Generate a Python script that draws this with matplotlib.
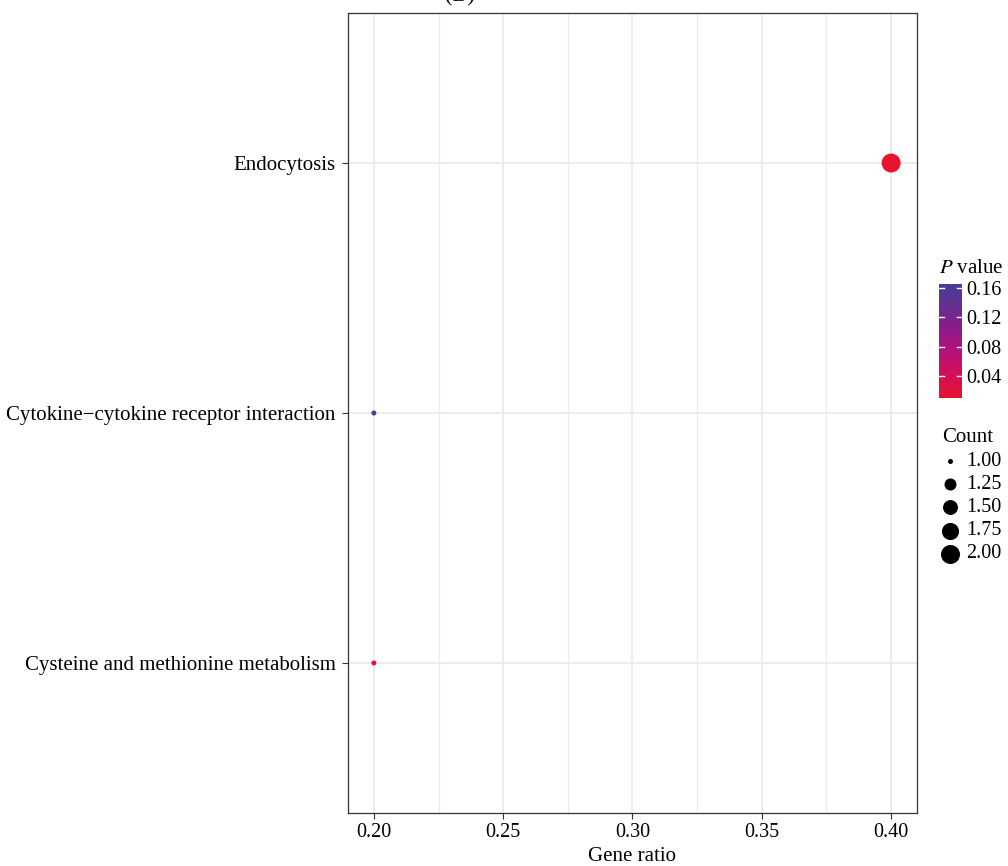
import matplotlib
matplotlib.use("Agg")
import matplotlib.pyplot as plt
import numpy as np
from matplotlib.colors import LinearSegmentedColormap, Normalize
from matplotlib.lines import Line2D

plt.rcParams['font.family'] = ['Liberation Serif', 'DejaVu Serif']

# ---- data ----
pathways = ["Cysteine and methionine metabolism",
            "Cytokine\u2212cytokine receptor interaction",
            "Endocytosis"]
gene_ratio = [0.20, 0.20, 0.40]
counts = [1, 1, 2]
pvalues = [0.022, 0.165, 0.010]
xticks = [0.20, 0.25, 0.30, 0.35, 0.40]
cbar_ticks = [0.04, 0.08, 0.12, 0.16]
size_legend_vals = [1.00, 1.25, 1.50, 1.75, 2.00]

W, H = 1008, 866
fig = plt.figure(figsize=(W / 100, H / 100), dpi=100)

def fx(px):
    return px / W

def fy(py):
    return 1 - py / H

ax = fig.add_axes([fx(348), fy(813), fx(917) - fx(348), fy(13) - fy(813)])

cmap = LinearSegmentedColormap.from_list(
    "pv", ["#E8132C", "#D4105A", "#B4127A", "#8E1A8A", "#64308F", "#453F98"])
pmin, pmax = 0.010, 0.165
norm = Normalize(vmin=pmin, vmax=pmax)

cmin, cmax = 1.0, 2.0
dmin, dmax = 5.0, 19.0   # diameters in pixels
def diam_px(c):
    t = (c - cmin) / (cmax - cmin)
    return dmin + (dmax - dmin) * np.sqrt(t)

def area_pt2(c):
    return (diam_px(c) * 0.72) ** 2

ypos = np.arange(1, len(pathways) + 1)
ax.scatter(gene_ratio, ypos, s=[area_pt2(c) for c in counts],
           c=[cmap(norm(p)) for p in pvalues], zorder=3, linewidths=0)

ax.set_xlim(0.19, 0.41)
ax.set_ylim(0.4, 3.6)
ax.set_xticks(xticks)
ax.set_xticklabels([f"{v:.2f}" for v in xticks])
ax.set_xticks([0.225, 0.275, 0.325, 0.375], minor=True)
ax.set_yticks(ypos)
ax.set_yticklabels(pathways, fontsize=15)
ax.grid(True, which='major', color='#EBEBEB', linewidth=1.3, zorder=0)
ax.grid(True, which='minor', axis='x', color='#EBEBEB', linewidth=0.8, zorder=0)
ax.set_axisbelow(True)
ax.tick_params(axis='both', which='major', length=4, width=0.8, color='#333333',
               labelcolor='black')
ax.tick_params(axis='x', which='major', labelsize=14.5, pad=3)
ax.tick_params(axis='y', which='major', pad=5)
ax.tick_params(axis='x', which='minor', length=0)
for sp in ax.spines.values():
    sp.set_color('#333333')
    sp.set_linewidth(0.9)
ax.set_xlabel("Gene ratio", fontsize=15, labelpad=4)

# partially clipped title (as in the reference)
fig.text(fx(460), 1 + 3 / H, "(B)", ha='center', va='center', fontsize=16)

# colorbar
cax = fig.add_axes([fx(939), fy(398), fx(962) - fx(939), fy(284) - fy(398)])
grad = np.linspace(pmin, pmax, 256).reshape(-1, 1)
cax.imshow(grad, aspect='auto', cmap=cmap, norm=norm, origin='lower',
           extent=[0, 1, pmin, pmax])
cax.set_xlim(0, 1)
cax.set_ylim(pmin, pmax)
cax.set_xticks([])
cax.yaxis.tick_right()
cax.set_yticks(cbar_ticks)
cax.set_yticklabels([f"{v:.2f}" for v in cbar_ticks])
cax.tick_params(axis='y', length=0, labelsize=14.5, pad=3)
for v in cbar_ticks:
    cax.plot([0, 0.2], [v, v], color='white', lw=1)
    cax.plot([0.8, 1], [v, v], color='white', lw=1)
for sp in cax.spines.values():
    sp.set_visible(False)
fig.text(fx(939), fy(268), "$P$ value", ha='left', va='center', fontsize=15,
         math_fontfamily='stix')

# size legend
fig.text(fx(942), fy(437), "Count", ha='left', va='center', fontsize=15)
for i, v in enumerate(size_legend_vals):
    yy = 461 + i * 23.2
    fig.add_artist(Line2D([fx(950)], [fy(yy)], marker='o', linestyle='none',
                          markersize=diam_px(v) * 0.72, color='black',
                          markeredgewidth=0))
    fig.text(fx(966), fy(yy), f"{v:.2f}", ha='left', va='center', fontsize=14.5)

fig.savefig("out.png", dpi=100)
